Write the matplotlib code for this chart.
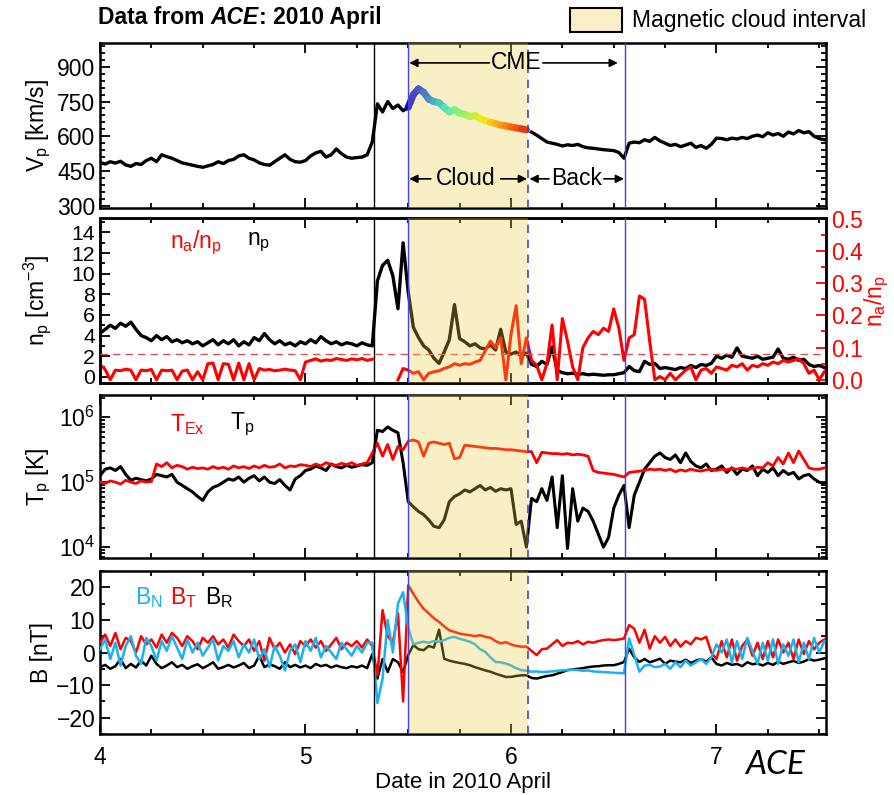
import numpy as np
import matplotlib
matplotlib.use('Agg')
import matplotlib.pyplot as plt
from matplotlib.collections import LineCollection
from matplotlib.patches import Rectangle
from matplotlib.ticker import MultipleLocator, LogLocator, NullFormatter, FormatStrFormatter

plt.rcParams['font.family'] = ['Liberation Sans', 'DejaVu Sans']
plt.rcParams['mathtext.fontset'] = 'custom'
plt.rcParams['mathtext.rm'] = 'Liberation Sans'
plt.rcParams['mathtext.it'] = 'Liberation Sans:italic'
plt.rcParams['mathtext.bf'] = 'Liberation Sans:bold'

# time grid: day of 2010 April, 0.025 day steps from 4.000 to 7.525
t = np.round(4.0 + 0.025 * np.arange(142), 3)

# boundaries (day of April)
t_shock, t_mc_start, t_mc_end, t_cme_end = 5.333, 5.5, 6.083, 6.555

# proton speed [km/s]
vp = [487, 480, 490, 484, 492, 476, 470, 482, 478, 495,
      505, 490, 520, 512, 505, 495, 485, 480, 475, 470,
      466, 472, 478, 490, 482, 495, 500, 515, 520, 505,
      498, 485, 478, 475, 490, 505, 520, 500, 490, 488,
      495, 515, 528, 535, 510, 520, 545, 525, 510, 505,
      508, 510, 520, 575, 740, 705, 750, 720, 735, 710,
      725, 780, 805, 790, 760, 750, 745, 725, 705, 715,
      700, 695, 685, 690, 675, 668, 660, 655, 648, 645,
      640, 636, 632, 628, 618, 605, 590, 575, 570, 565,
      558, 563, 560, 565, 555, 550, 548, 545, 542, 540,
      538, 530, 505, 570, 575, 572, 585, 578, 595, 580,
      570, 560, 565, 555, 562, 570, 552, 560, 548, 565,
      592, 590, 585, 592, 588, 595, 590, 600, 605, 598,
      615, 605, 612, 600, 618, 610, 625, 615, 620, 600,
      590, 585]

# proton density [cm^-3]
n_p = [4.2, 4.6, 5.0, 4.7, 5.2, 4.9, 5.3, 4.6, 4.0, 3.8,
       3.5, 4.0, 3.6, 3.9, 3.4, 3.6, 3.3, 3.5, 3.2, 3.4,
       3.0, 3.3, 3.6, 3.1, 3.5, 3.2, 3.6, 3.0, 3.4, 3.1,
       3.8, 3.5, 4.2, 3.6, 3.2, 3.5, 3.1, 3.3, 3.0, 3.4,
       3.2, 3.6, 3.3, 3.9, 3.5, 3.2, 3.4, 3.1, 3.3, 3.2,
       3.0, 3.3, 3.1, 3.0, 9.3, 10.8, 11.3, 9.8, 6.6, 13.0,
       8.2, 4.8, 3.8, 3.0, 2.6, 1.8, 1.3, 2.4, 3.6, 7.0,
       3.7, 3.4, 3.0, 3.2, 2.8, 2.7, 3.1, 2.6, 4.6, 2.4,
       2.2, 2.4, 2.0, 2.3, 1.2, 1.0, 1.5, 1.2, 2.9, 0.6,
       0.4, 0.3, 0.35, 0.25, 0.3, 0.2, 0.25, 0.2, 0.15, 0.2,
       0.2, 0.3, 0.4, 1.0, 0.6, 0.5, 1.5, 1.2, 1.3, 0.8,
       0.9, 0.8, 0.7, 0.9, 0.8, 1.1, 0.9, 1.2, 1.1, 1.3,
       2.0, 1.8, 2.1, 1.9, 2.8, 2.0, 1.9, 1.8, 2.0, 1.7,
       1.8, 1.9, 2.7, 1.8, 1.7, 1.9, 1.6, 1.7, 1.2, 1.0,
       1.1, 0.9]

# alpha to proton density ratio (gap in the sheath)
na_np = [0.047, 0.032, 0.0, 0.03, 0.028, 0.033, 0.03, 0.0, 0.03, 0.028,
         0.032, 0.0, 0.03, 0.028, 0.03, 0.0, 0.027, 0.03, 0.0, 0.025,
         0.0, 0.05, 0.052, 0.0, 0.05, 0.048, 0.0, 0.052, 0.0, 0.05,
         0.0, 0.035, 0.03, 0.032, 0.028, 0.03, 0.033, 0.03, 0.028, 0.0,
         0.055, 0.06, 0.065, 0.058, 0.062, 0.06, 0.066, 0.063, 0.06, 0.065,
         0.062, 0.066, 0.06, 0.064, np.nan, np.nan, np.nan, np.nan, 0.0, 0.035,
         0.03, 0.02, 0.025, 0.0, 0.02, 0.025, 0.028, 0.035, 0.04, 0.05,
         0.045, 0.05, 0.048, 0.055, 0.06, 0.09, 0.12, 0.10, 0.13, 0.0,
         0.14, 0.23, 0.05, 0.13, 0.06, 0.045, 0.0, 0.05, 0.17, 0.0,
         0.19, 0.12, 0.04, 0.0, 0.1, 0.13, 0.15, 0.14, 0.16, 0.15,
         0.22, 0.16, 0.06, 0.13, 0.14, 0.26, 0.25, 0.12, 0.0, 0.01,
         0.0, 0.02, 0.0, 0.015, 0.03, 0.04, 0.0, 0.03, 0.035, 0.02,
         0.04, 0.035, 0.03, 0.045, 0.04, 0.05, 0.03, 0.045, 0.04, 0.05,
         0.045, 0.055, 0.05, 0.06, 0.055, 0.06, 0.065, 0.05, 0.02, 0.03,
         0.0, 0.025]

# log10 of proton temperature [K]
tp_log10 = [5.10, 5.20, 5.22, 5.18, 5.24, 5.12, 5.03, 5.06, 5.04, 5.02,
            5.05, 5.12, 5.10, 5.08, 5.12, 5.00, 4.95, 4.90, 4.85, 4.78,
            4.72, 4.85, 4.92, 4.95, 5.00, 5.05, 5.03, 5.08, 5.00, 5.06,
            5.10, 5.02, 5.08, 5.00, 4.98, 5.04, 4.95, 4.88, 5.05, 5.10,
            5.18, 5.20, 5.25, 5.22, 5.18, 5.28, 5.24, 5.22, 5.26, 5.23,
            5.25, 5.27, 5.26, 5.30, 5.80, 5.78, 5.85, 5.80, 5.76, 5.30,
            4.70, 4.62, 4.55, 4.50, 4.42, 4.32, 4.30, 4.42, 4.70, 4.78,
            4.82, 4.88, 4.85, 4.90, 4.95, 4.88, 4.92, 4.86, 4.90, 4.88,
            4.90, 4.35, 4.40, 4.00, 4.75, 4.70, 4.90, 4.72, 5.08, 4.30,
            5.10, 3.98, 4.90, 4.40, 4.60, 4.55, 4.40, 4.20, 4.00, 4.15,
            4.60, 4.80, 4.95, 4.30, 4.80, 5.00, 5.20, 5.30, 5.40, 5.45,
            5.38, 5.35, 5.42, 5.30, 5.45, 5.32, 5.25, 5.22, 5.28, 5.18,
            5.20, 5.25, 5.15, 5.22, 5.12, 5.20, 5.18, 5.25, 5.10, 5.20,
            5.15, 5.22, 5.10, 5.18, 5.12, 5.15, 5.05, 5.10, 5.12, 5.05,
            5.00, 4.98]

# log10 of expected temperature [K]
tex_log10 = [5.00, 4.98, 5.02, 5.00, 4.97, 5.03, 5.00, 4.98, 5.02, 5.00,
             5.01, 5.28, 5.24, 5.30, 5.22, 5.26, 5.24, 5.20, 5.23, 5.21,
             5.22, 5.20, 5.24, 5.21, 5.23, 5.20, 5.25, 5.22, 5.24, 5.21,
             5.25, 5.22, 5.26, 5.23, 5.24, 5.28, 5.22, 5.25, 5.24, 5.27,
             5.26, 5.24, 5.28, 5.25, 5.30, 5.27, 5.26, 5.29, 5.27, 5.30,
             5.26, 5.28, 5.30, 5.45, 5.60, 5.40, 5.58, 5.35, 5.55, 5.50,
             5.63, 5.65, 5.62, 5.40, 5.60, 5.62, 5.60, 5.58, 5.60, 5.36,
             5.38, 5.57, 5.56, 5.55, 5.54, 5.53, 5.52, 5.52, 5.51, 5.50,
             5.50, 5.49, 5.48, 5.47, 5.47, 5.30, 5.46, 5.45, 5.44, 5.44,
             5.43, 5.44, 5.42, 5.43, 5.42, 5.40, 5.18, 5.15, 5.14, 5.13,
             5.12, 5.10, 5.08, 5.15, 5.16, 5.17, 5.18, 5.20, 5.19, 5.20,
             5.18, 5.20, 5.16, 5.19, 5.17, 5.20, 5.18, 5.17, 5.19, 5.20,
             5.18, 5.20, 5.19, 5.21, 5.20, 5.22, 5.20, 5.21, 5.23, 5.22,
             5.30, 5.25, 5.38, 5.28, 5.45, 5.30, 5.48, 5.35, 5.22, 5.20,
             5.20, 5.22]

# magnetic field components [nT]
b_r = [-4.5, -3.8, -5.0, -4.2, -2.0, -4.8, -3.5, -4.6, -2.5, -4.0,
       -1.0, -3.5, -4.8, -4.0, -3.0, -4.5, -3.8, -5.0, -4.2, -3.6,
       -4.8, -4.0, -3.0, -5.0, -4.5, -3.8, -4.6, -4.0, -3.2, -4.8,
       -4.0, -1.0, -4.5, -3.6, -4.2, -5.0, -3.0, -4.5, -3.8, -4.6,
       -4.0, -4.8, -3.5, -4.2, -3.8, -4.6, -4.0, -4.5, -4.8, -4.2,
       -4.6, -4.0, -4.8, -0.5, -8.0, -2.0, -6.0, -2.0, -3.0, -6.0,
       -0.8, 2.3, 1.0, 0.7, 2.0, 1.5, 7.0, -1.9, -2.5, -2.9,
       -3.2, -3.5, -3.9, -4.5, -5.0, -5.5, -5.9, -6.5, -7.0, -7.5,
       -7.5, -7.2, -7.0, -7.0, -7.8, -8.0, -7.6, -7.2, -7.0, -6.5,
       -6.0, -5.4, -5.2, -5.0, -4.8, -4.5, -4.3, -4.2, -4.0, -3.9,
       -3.9, -3.5, -2.9, 1.2, -1.5, -2.9, -2.0, -3.0, -2.5, -1.9,
       -3.5, -2.5, -2.8, -3.0, -2.2, -3.2, -2.5, -2.0, -2.8, -1.5,
       -3.5, -4.0, -3.2, -3.8, -3.5, -4.2, -3.0, -3.6, -3.4, -4.0,
       -3.2, -3.8, -2.8, -3.5, -3.0, -2.6, -3.2, -2.8, -2.0, -2.5,
       -2.2, -1.8]

b_t = [3.0, 5.5, 2.0, 6.0, 1.0, 4.5, 3.5, 0.0, 5.0, 2.5,
       4.0, 1.5, 5.5, 3.0, 6.0, 4.5, 2.0, 5.0, 3.5, 1.0,
       4.5, 3.0, 5.0, 2.5, 4.0, 1.5, 5.5, 3.5, 2.0, 4.0,
       0.5, 3.5, -2.5, 4.5, 1.0, 3.0, 0.0, 2.5, -0.5, 3.5,
       2.0, 4.0, 1.5, 3.5, 0.5, 2.5, 4.5, 1.0, 3.0, 2.0,
       3.5, 1.5, 4.0, 2.0, -7.0, 13.0, 5.0, 3.0, 12.0, -15.0,
       20.6, 18.0, 15.5, 13.4, 12.0, 10.5, 9.4, 8.0, 6.8, 6.3,
       5.8, 5.5, 5.3, 5.0, 5.3, 4.8, 4.5, 3.5, 2.8, 3.2,
       2.5, 2.0, 1.8, 1.8, 0.5, -0.8, 1.0, 1.2, 2.5, 3.8,
       2.0, 3.0, 2.8, 3.5, 2.5, 3.3, 3.0, 3.5, 3.8, 4.0,
       3.8, 4.0, 4.3, 8.4, 7.3, 3.0, 7.0, 1.2, 5.0, 3.0,
       4.8, 2.0, 4.0, 1.8, 3.5, 2.5, 4.5, 4.0, 4.8, 0.0,
       -2.0, 3.5, -1.5, 4.0, -2.5, 2.0, 4.0, -1.0, 3.0, -2.0,
       3.5, -1.5, 4.0, 0.0, 3.0, -2.0, 4.0, -0.5, 3.5, 1.0,
       3.0, 4.0]

b_n = [1.0, 4.0, -2.0, 3.0, -4.0, 2.0, 5.0, -1.0, -3.5, 4.5,
       2.0, -2.5, 3.5, 0.5, 5.0, 1.5, -2.0, 4.0, 0.0, 3.0,
       -1.0, 1.5, 4.0, -2.5, 2.0, 0.5, 3.5, -1.5, 2.5, 0.0,
       4.0, -2.0, 1.0, -4.5, 2.0, -1.0, -5.5, 0.5, 2.5, -3.0,
       3.5, 0.5, 4.5, -1.5, 2.0, 0.0, -2.0, 3.0, 1.0, -1.0,
       2.0, 0.0, 3.0, 3.0, -15.5, -8.0, 10.0, 0.0, 15.0, 18.5,
       7.5, 2.5, 3.0, 3.3, 3.0, 3.5, 3.3, 3.8, 4.5, 4.8,
       4.2, 3.8, 3.3, 2.5, 1.0, 0.2, -1.5, -2.9, -3.0, -3.4,
       -4.0, -4.8, -5.4, -5.6, -5.9, -5.8, -6.0, -5.9, -5.8, -5.6,
       -5.5, -5.4, -5.3, -5.4, -5.6, -5.5, -5.8, -5.9, -6.0, -6.1,
       -6.2, -6.3, -6.4, 4.3, -0.8, -5.9, -4.0, -3.8, -4.5, -4.3,
       -3.5, -5.0, -3.0, -4.5, -2.5, -4.0, -3.0, -2.0, -3.5, -1.5,
       2.5, 0.0, 4.0, -3.0, 3.5, -2.0, 4.5, 0.5, -3.5, 3.0,
       -2.5, 4.0, -3.5, 2.5, -1.0, 4.0, -3.0, 3.0, -2.0, 4.5,
       0.0, 3.5]

CYAN = '#1ab2ee'
BLUE = '#4343e0'
SHADE = '#EECB40'
FS = 16.5

fig = plt.figure(figsize=(8.95, 7.95), dpi=100)
L, W = 100 / 895, 726 / 895


def panel(top, bot):
    return fig.add_axes([L, 1 - bot / 795, W, (bot - top) / 795])


def style(ax, bottom_labels=False):
    ax.set_xlim(4, 7.533)
    ax.xaxis.set_major_locator(MultipleLocator(1))
    ax.xaxis.set_minor_locator(MultipleLocator(0.25))
    ax.tick_params(which='both', direction='in', top=True, right=True, width=1.3)
    ax.tick_params(which='major', length=7, labelsize=FS)
    ax.tick_params(which='minor', length=3.5)
    for s in ax.spines.values():
        s.set_linewidth(1.8)
    if not bottom_labels:
        ax.tick_params(labelbottom=False)


def events(ax):
    ax.axvline(t_shock, color='black', lw=1.0, zorder=6)
    ax.axvline(t_mc_start, color=BLUE, lw=1.0, zorder=6)
    ax.axvline(t_cme_end, color=BLUE, lw=1.0, zorder=6)
    ax.axvline(t_mc_end, color=BLUE, lw=1.2, ls=(0, (5, 4)), zorder=6)


def shade(ax):
    ax.axvspan(t_mc_start, t_mc_end, color=SHADE, alpha=0.30, lw=0, zorder=5)


ax1 = panel(43, 208)
ax2 = panel(218, 383)
ax3 = panel(395, 558)
ax4 = panel(571, 734)

# ---- panel 1: Vp
style(ax1)
vp_arr = np.array(vp, float)
vp_k = vp_arr.copy()
vp_k[(t > t_mc_start) & (t < 6.08)] = np.nan
ax1.plot(t, vp_k, color='black', lw=2.4, zorder=2)
sel = (t >= t_mc_start) & (t <= 6.08)
pts = np.column_stack([t[sel], vp_arr[sel]])
segs = np.stack([pts[:-1], pts[1:]], axis=1)
lc = LineCollection(segs, colors=plt.cm.jet(np.linspace(0.1, 0.92, len(segs))),
                    linewidths=5, capstyle='round', zorder=3)
ax1.add_collection(lc)
ax1.set_ylim(290, 1003)
ax1.yaxis.set_major_locator(MultipleLocator(150))
ax1.yaxis.set_minor_locator(MultipleLocator(30))
ax1.set_ylabel(r'$\mathregular{V_p}$ [km/s]', fontsize=FS)
shade(ax1)
events(ax1)

arrow = dict(arrowstyle='-|>', color='black', lw=1.2, mutation_scale=12,
             shrinkA=0, shrinkB=0)
y_cme, y_cl = 917, 416
ax1.text(6.025, y_cme, 'CME', ha='center', va='center', fontsize=FS, zorder=7)
ax1.annotate('', xy=(5.505, y_cme), xytext=(5.895, y_cme), arrowprops=arrow, zorder=7)
ax1.annotate('', xy=(6.52, y_cme), xytext=(6.155, y_cme), arrowprops=arrow, zorder=7)
ax1.text(5.78, y_cl, 'Cloud', ha='center', va='center', fontsize=FS, zorder=7)
ax1.annotate('', xy=(5.505, y_cl), xytext=(5.61, y_cl), arrowprops=arrow, zorder=7)
ax1.annotate('', xy=(6.078, y_cl), xytext=(5.95, y_cl), arrowprops=arrow, zorder=7)
ax1.text(6.32, y_cl, 'Back', ha='center', va='center', fontsize=FS, zorder=7)
ax1.annotate('', xy=(6.09, y_cl), xytext=(6.185, y_cl), arrowprops=arrow, zorder=7)
ax1.annotate('', xy=(6.55, y_cl), xytext=(6.452, y_cl), arrowprops=arrow, zorder=7)

# ---- panel 2: np and na/np
style(ax2)
ax2.tick_params(axis='y', labelsize=15.3)
ax2.plot(t, n_p, color='black', lw=2.4, zorder=2)
ax2.set_ylim(-0.6, 15.4)
ax2.yaxis.set_major_locator(MultipleLocator(2))
ax2.yaxis.set_minor_locator(MultipleLocator(1))
ax2.set_ylabel(r'$\mathregular{n_p\ [cm^{-3}]}$', fontsize=FS)
ax2r = ax2.twinx()
ax2r.plot(t, na_np, color='red', lw=2.2, zorder=2)
ax2r.axhline(0.08, color='#e04848', lw=0.9, ls=(0, (6, 4)), zorder=3)
ax2r.set_ylim(-0.01, 0.502)
ax2r.yaxis.set_major_locator(MultipleLocator(0.1))
ax2r.yaxis.set_minor_locator(MultipleLocator(0.05))
ax2r.yaxis.set_major_formatter(FormatStrFormatter('%.1f'))
ax2r.tick_params(which='both', direction='in', color='red', labelcolor='red', width=1.3)
ax2r.tick_params(which='major', length=7, labelsize=FS)
ax2r.tick_params(which='minor', length=3.5)
for s in ax2r.spines.values():
    s.set_linewidth(1.8)
ax2r.set_ylabel(r'$\mathregular{n_a/n_p}$', color='red', fontsize=FS)
ax2r.yaxis.set_label_coords(1.05, 0.5)
shade(ax2r)
events(ax2r)
ax2.text(0.096, 0.85, r'$\mathregular{n_a/n_p}$', color='red', fontsize=FS,
         transform=ax2.transAxes, va='center')
ax2.text(0.2025, 0.85, r'$\mathregular{n_p}$', color='black', fontsize=FS,
         transform=ax2.transAxes, va='center')

# ---- panel 3: temperatures
style(ax3)
ax3.set_yscale('log')
ax3.plot(t, 10 ** np.array(tp_log10), color='black', lw=2.2, zorder=2)
ax3.plot(t, 10 ** np.array(tex_log10), color='red', lw=2.0, zorder=3)
ax3.set_ylim(6.8e3, 2.2e6)
ax3.yaxis.set_major_locator(LogLocator(base=10))
ax3.yaxis.set_minor_locator(LogLocator(base=10, subs=np.arange(2, 10)))
ax3.yaxis.set_minor_formatter(NullFormatter())
ax3.set_ylabel(r'$\mathregular{T_p}$ [K]', fontsize=FS)
shade(ax3)
events(ax3)
ax3.text(0.096, 0.82, r'$\mathregular{T_{Ex}}$', color='red', fontsize=FS,
         transform=ax3.transAxes, va='center')
ax3.text(0.179, 0.82, r'$\mathregular{T_p}$', color='black', fontsize=FS,
         transform=ax3.transAxes, va='center')

# ---- panel 4: magnetic field
style(ax4, bottom_labels=True)
ax4.plot(t, b_r, color='black', lw=1.8, zorder=2)
ax4.plot(t, b_t, color='red', lw=1.8, zorder=3)
ax4.plot(t, b_n, color=CYAN, lw=1.8, zorder=4)
ax4.set_ylim(-25, 25)
ax4.yaxis.set_major_locator(MultipleLocator(10))
ax4.yaxis.set_minor_locator(MultipleLocator(5))
ax4.set_ylabel('B [nT]', fontsize=FS)
ax4.tick_params(axis='x', pad=9)
ax4.set_xlabel('Date in 2010 April', fontsize=FS - 0.5, labelpad=2)
shade(ax4)
events(ax4)
ax4.text(0.048, 0.84, r'$\mathregular{B_N}$', color=CYAN, fontsize=FS,
         transform=ax4.transAxes, va='center')
ax4.text(0.096, 0.84, r'$\mathregular{B_T}$', color='red', fontsize=FS,
         transform=ax4.transAxes, va='center')
ax4.text(0.145, 0.84, r'$\mathregular{B_R}$', color='black', fontsize=FS,
         transform=ax4.transAxes, va='center')

for ax in (ax1, ax2, ax3, ax4):
    ax.yaxis.set_label_coords(-0.065, 0.5)

# ---- title, legend box, spacecraft tag
t1 = fig.text(98 / 895, 1 - 29 / 795, 'Data from ', fontsize=FS, weight='bold', va='bottom')
t2 = ax1.annotate('ACE', xy=(1, 0), xycoords=t1, fontsize=FS, weight='bold',
                  style='italic', va='bottom', annotation_clip=False)
ax1.annotate(': 2010 April', xy=(1, 0), xycoords=t2, fontsize=FS, weight='bold',
             va='bottom', annotation_clip=False)

fig.add_artist(Rectangle((570 / 895, 1 - 32 / 795), 52 / 895, 24 / 795,
                         transform=fig.transFigure, facecolor='#FAEFC6',
                         edgecolor='black', lw=1.5))
fig.text(632 / 895, 1 - 20 / 795, 'Magnetic cloud interval', fontsize=FS, va='center')
fig.text(775 / 895, 1 - 765 / 795, 'ACE', fontsize=24, style='italic',
         family=['Lato', 'DejaVu Sans'], ha='center', va='center')

fig.savefig('out.png', dpi=100)
